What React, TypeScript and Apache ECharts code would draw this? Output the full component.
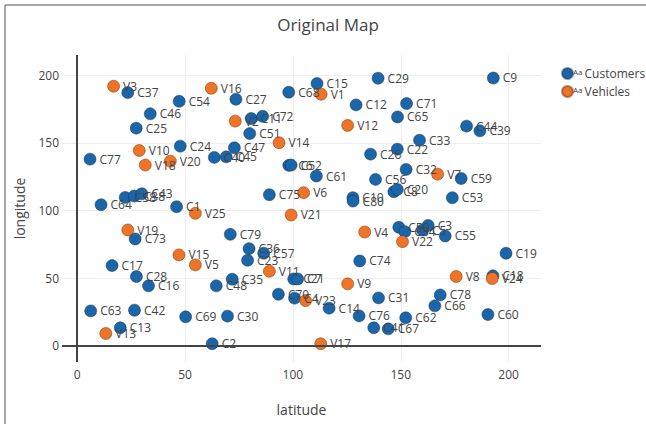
import React, { useEffect, useRef } from "react";
import * as echarts from "echarts";

const customerNames = [
  "C37", "C54", "C46", "C25", "C24", "C77", "C40", "C45", "C27", "C68", "C15",
  "C11", "C72", "C51", "C47", "C6", "C52", "C61", "C75", "C29", "C9", "C12",
  "C71", "C65", "C44", "C39", "C33", "C22", "C26", "C32", "C59", "C56", "C8",
  "C20", "C53", "C10", "C80", "C64", "C58", "C38", "C43", "C1", "C73", "C17",
  "C28", "C16", "C63", "C42", "C69", "C13", "C2", "C79", "C36", "C57", "C23",
  "C35", "C48", "C21", "C7", "C70", "C4", "C14", "C30", "C50", "C34", "C5",
  "C3", "C55", "C74", "C19", "C18", "C78", "C31", "C66", "C60", "C76", "C62",
  "C41", "C67",
];
const customerLat = [
  23.5, 47.3, 33.9, 27.4, 47.8, 6.0, 63.6, 69.1, 73.6, 98.1, 111.2,
  80.7, 86.0, 80.0, 72.9, 98.1, 99.2, 110.9, 89.1, 139.5, 192.9, 129.3,
  152.7, 148.5, 180.5, 186.7, 158.7, 148.4, 136.0, 152.5, 178.0, 138.3, 146.8,
  148.4, 173.9, 127.8, 127.9, 11.1, 22.3, 26.5, 30.0, 46.1, 26.9, 16.2,
  27.5, 33.1, 6.3, 26.6, 50.3, 20.0, 62.6, 71.0, 79.7, 86.5, 79.0,
  71.9, 64.5, 100.4, 102.2, 93.3, 100.8, 116.8, 69.7, 149.1, 151.9, 160.1,
  162.7, 170.6, 131.0, 198.8, 192.7, 168.3, 139.7, 165.8, 190.4, 130.7, 152.3,
  137.5, 144.2,
];
const customerLon = [
  187.2, 180.8, 171.5, 160.9, 147.6, 138.0, 139.3, 139.7, 182.3, 187.5, 193.9,
  168.0, 169.7, 156.9, 146.4, 133.4, 133.6, 125.5, 111.7, 197.8, 198.0, 178.1,
  179.1, 169.2, 162.4, 158.9, 152.0, 145.4, 141.7, 130.4, 123.7, 123.0, 113.9,
  115.6, 109.5, 109.5, 107.0, 104.3, 109.7, 110.7, 112.4, 102.8, 79.0, 59.3,
  51.2, 44.3, 25.8, 26.3, 21.4, 13.3, 1.5, 82.4, 71.8, 68.4, 63.2,
  49.2, 44.3, 49.4, 49.4, 38.1, 35.2, 27.8, 21.9, 87.6, 84.4, 85.6,
  89.0, 81.2, 62.7, 68.4, 51.7, 37.6, 35.4, 29.5, 23.1, 22.1, 20.7,
  13.3, 12.5,
];

const vehicleNames = [
  "V1", "V2", "V3", "V4", "V5", "V6", "V7", "V8", "V9", "V10", "V11", "V12", "V13",
  "V14", "V15", "V16", "V17", "V18", "V19", "V20", "V21", "V22", "V23", "V24", "V25",
];
const vehicleLat = [
  113.1, 73.3, 16.9, 133.3, 54.8, 105.0, 167.1, 175.7, 125.4, 28.8, 89.1, 125.4, 13.3,
  93.6, 47.2, 62.2, 112.9, 31.6, 23.5, 43.2, 99.2, 150.8, 105.9, 192.4, 54.8,
];
const vehicleLon = [
  186.0, 166.1, 191.9, 84.1, 59.8, 113.2, 126.9, 51.2, 45.8, 144.4, 55.1, 162.9, 9.1,
  150.1, 67.2, 190.4, 1.5, 133.6, 85.6, 136.5, 96.7, 77.0, 33.4, 49.7, 97.9,
];

const tickValues = [0, 50, 100, 150, 200];
const seriesNames = ["Customers", "Vehicles"];

const FONT = "'Open Sans', 'DejaVu Sans', sans-serif";

function toPoints(names: string[], lat: number[], lon: number[]) {
  return names.map((n, i) => ({ name: n, value: [lat[i], lon[i]] }));
}

export default function App() {
  const ref = useRef<HTMLDivElement>(null);
  useEffect(() => {
    if (!ref.current) return;
    const chart = echarts.init(ref.current, null, { renderer: "svg" });
    const label = {
      show: true,
      position: "right" as const,
      distance: 3,
      formatter: "{b}",
      color: "#444",
      fontSize: 12,
      fontFamily: FONT,
    };
    chart.setOption({
      animation: false,
      backgroundColor: "#fff",
      title: {
        text: "Original Map",
        left: 323,
        textAlign: "center",
        top: 11,
        textStyle: { color: "#444", fontSize: 17, fontWeight: "normal", fontFamily: FONT },
      },
      legend: {
        data: seriesNames,
        orient: "vertical",
        left: 556,
        top: 62,
        itemGap: 5,
        itemWidth: 11,
        itemHeight: 11,
        icon: "circle",
        formatter: (n: string) => `{a|Aa}{b|${n}}`,
        textStyle: {
          color: "#444",
          fontFamily: FONT,
          padding: [0, 0, 0, -5],
          rich: {
            a: { fontSize: 8, color: "#444", fontFamily: FONT, verticalAlign: "top", padding: [0, 2, 3, 0] },
            b: { fontSize: 12, color: "#444", fontFamily: FONT },
          },
        },
      },
      grid: { left: 62, right: 105, top: 55, bottom: 62 },
      xAxis: {
        type: "value",
        min: -7,
        max: 215,
        name: "latitude",
        nameLocation: "middle",
        nameGap: 40,
        nameTextStyle: { color: "#444", fontSize: 14, fontFamily: FONT },
        axisLine: { show: false },
        axisTick: { show: false, customValues: tickValues },
        axisLabel: { customValues: tickValues, color: "#444", fontSize: 12, fontFamily: FONT, margin: 6 },
        splitLine: { show: true, lineStyle: { color: "#eee", width: 1 } },
      },
      yAxis: {
        type: "value",
        min: -12,
        max: 215,
        name: "longitude",
        nameLocation: "middle",
        nameGap: 36,
        nameTextStyle: { color: "#444", fontSize: 14, fontFamily: FONT },
        axisLine: { show: false },
        axisTick: { show: false, customValues: tickValues },
        axisLabel: { customValues: tickValues, color: "#444", fontSize: 12, fontFamily: FONT, margin: 3 },
        splitLine: { show: true, lineStyle: { color: "#eee", width: 1 } },
      },
      graphic: [
        { type: "line", shape: { x1: 5, y1: 5, x2: 5, y2: 424 }, style: { stroke: "#888", lineWidth: 1.5 } },
        { type: "line", shape: { x1: 5, y1: 5, x2: 646, y2: 5 }, style: { stroke: "#888", lineWidth: 1.5 } },
      ],
      series: [
        {
          name: "zero",
          type: "scatter",
          data: [],
          z: 1,
          silent: true,
          markLine: {
            silent: true,
            symbol: "none",
            label: { show: false },
            lineStyle: { color: "#444", width: 2, type: "solid" },
            data: [{ xAxis: 0 }, { yAxis: 0 }],
          },
        },
        {
          name: "Customers",
          type: "scatter",
          z: 3,
          symbolSize: 12,
          itemStyle: { color: "#1a66a8", borderColor: "rgba(20,40,70,0.45)", borderWidth: 1, opacity: 1 },
          label,
          data: toPoints(customerNames, customerLat, customerLon),
        },
        {
          name: "Vehicles",
          type: "scatter",
          z: 3,
          symbolSize: 12,
          itemStyle: { color: "#ef7427", borderColor: "rgba(90,40,10,0.45)", borderWidth: 1, opacity: 1 },
          label,
          data: toPoints(vehicleNames, vehicleLat, vehicleLon),
        },
      ],
    });
    return () => chart.dispose();
  }, []);
  return (
    <div
      ref={ref}
      style={{ position: "absolute", left: 0, top: 0, width: 646, height: 424 }}
    />
  );
}
